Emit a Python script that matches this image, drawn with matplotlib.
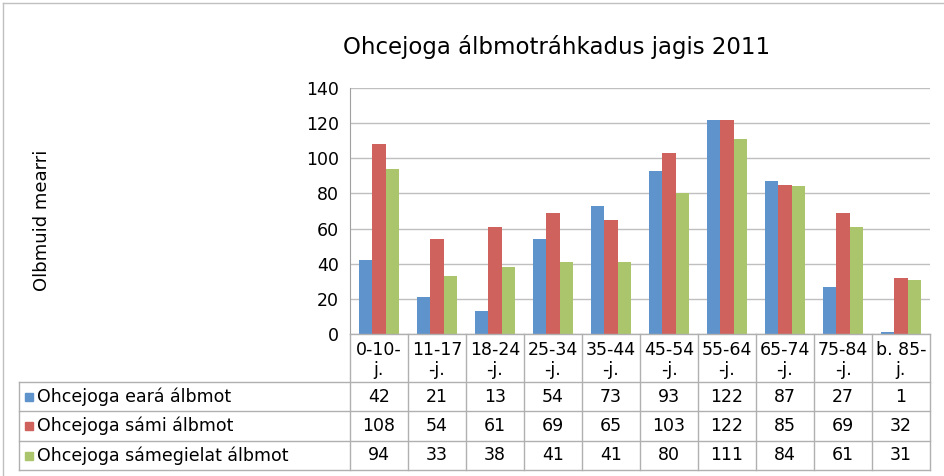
import numpy as np
import matplotlib.pyplot as plt
from matplotlib.lines import Line2D
from matplotlib.patches import Rectangle

plt.rcParams['font.family'] = ['DejaVu Sans']

# data
categories = ["0-10-\nj.", "11-17\n-j.", "18-24\n-j.", "25-34\n-j.", "35-44\n-j.",
              "45-54\n-j.", "55-64\n-j.", "65-74\n-j.", "75-84\n-j.", "b. 85-\nj."]
eara = [42, 21, 13, 54, 73, 93, 122, 87, 27, 1]
sami = [108, 54, 61, 69, 65, 103, 122, 85, 69, 32]
samegiella = [94, 33, 38, 41, 41, 80, 111, 84, 61, 31]
series_names = ["Ohcejoga eará álbmot", "Ohcejoga sámi álbmot", "Ohcejoga sámegielat álbmot"]
colors = ["#5f93cb", "#d0625e", "#aac56b"]

W, H = 945, 476
fig = plt.figure(figsize=(W / 100, H / 100), dpi=100)


def fx(px):
    return px / W


def fy(py):
    return 1 - py / H


def hline(x0, x1, y, c='#b0b0b0'):
    fig.add_artist(Line2D([fx(x0), fx(x1)], [fy(y), fy(y)], transform=fig.transFigure, color=c, lw=1))


def vline(x, y0, y1, c='#b0b0b0'):
    fig.add_artist(Line2D([fx(x), fx(x)], [fy(y0), fy(y1)], transform=fig.transFigure, color=c, lw=1))


left, right, top, bottom = 350, 930, 88, 334
ax = fig.add_axes([fx(left), fy(bottom), fx(right) - fx(left), fy(top) - fy(bottom)])
x = np.arange(len(categories))
w = 0.225
all_series = [eara, sami, samegiella]
for i, vals in enumerate(all_series):
    ax.bar(x + (i - 1) * w, vals, w, color=colors[i], zorder=2)
ax.set_xlim(-0.5, len(categories) - 0.5)
ax.set_ylim(0, 140)
ax.set_yticks(range(0, 141, 20))
ax.set_xticks([])
ax.grid(axis='y', color='#bfbfbf', lw=1, zorder=0)
for s in ['top', 'right', 'bottom']:
    ax.spines[s].set_visible(False)
ax.spines['left'].set_color('#a0a0a0')
ax.tick_params(axis='y', length=0, labelsize=12.5, pad=8)

fig.text(fx(557), fy(47), "Ohcejoga álbmotráhkadus jagis 2011", ha='center', va='center', fontsize=16.5)
fig.text(fx(42), fy(220), "Olbmuid mearri", rotation=90, ha='center', va='center', fontsize=13)

# data table
col_w = (right - left) / len(categories)
rows = [382, 411, 441, 470]
for k in range(len(categories) + 1):
    vline(left + k * col_w, bottom, rows[-1])
hline(left, right, bottom)
for y in rows:
    hline(19, right, y)
vline(19, rows[0], rows[-1])
for k, cat in enumerate(categories):
    fig.text(fx(left + (k + 0.5) * col_w), fy((bottom + rows[0]) / 2 + 2), cat,
             ha='center', va='center', fontsize=12.5, linespacing=1.15)
for r, vals in enumerate(all_series):
    yc = (rows[r] + rows[r + 1]) / 2
    fig.add_artist(Rectangle((fx(25), fy(yc + 4)), fx(8), 8 / H, transform=fig.transFigure,
                             color=colors[r]))
    fig.text(fx(37), fy(yc), series_names[r], ha='left', va='center', fontsize=12.5)
    for k, v in enumerate(vals):
        fig.text(fx(left + (k + 0.5) * col_w), fy(yc), str(v), ha='center', va='center', fontsize=12.5)

# chart border
hline(3, W, 3, '#c0c0c0')
vline(3, 3, H, '#c0c0c0')

fig.savefig("out.png", dpi=100)
